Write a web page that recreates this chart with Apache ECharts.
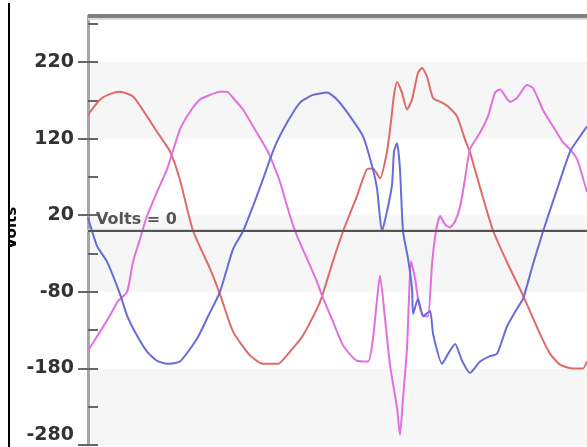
<!DOCTYPE html>
<html>
<head>
<meta charset="utf-8">
<script src="https://cdn.jsdelivr.net/npm/echarts@6/dist/echarts.min.js"></script>
<style>
html,body{margin:0;padding:0;background:#fff;}
#c{width:587px;height:447px;}
</style>
</head>
<body>
<div id="c"></div>
<script>
// time in ms, voltage in volts
const phaseA_t = [0.00,0.67,1.22,1.78,2.50,3.28,3.83,4.56,5.11,5.83,6.78,7.33,8.06,9.00,9.72,10.56,11.22,11.94,12.72,13.00,13.61,14.17,14.94,15.50,15.83,16.22,16.61,16.83,17.00,17.17,17.44,17.72,18.00,18.33,18.56,18.83,19.17,19.67,20.00,20.50,20.94,21.22,21.78,22.50,23.33,24.17,25.11,25.67,26.22,26.89,27.50,27.72];
const phaseA_v = [151,171,178,181,175,149,129,103,66,0,-50,-83,-132,-163,-174,-174,-158,-137,-102,-86,-40,-1,45,80,81,68,103,142,177,194,180,158,171,206,212,201,173,167,162,149,119,102,56,0,-44,-85,-135,-161,-175,-180,-180,-171];

const phaseB_t = [0.00,0.50,1.06,1.78,2.17,2.72,3.28,3.83,4.39,5.11,6.06,6.67,7.33,8.06,8.61,9.17,9.72,10.39,11.06,11.78,12.50,13.28,13.83,14.56,15.28,15.83,16.06,16.33,16.61,16.89,17.00,17.17,17.33,17.50,17.78,18.00,18.06,18.33,18.61,19.00,19.17,19.67,20.00,20.39,20.78,21.22,21.78,22.33,22.72,23.28,23.83,24.17,24.72,25.28,26.06,26.78,27.22,27.72];
const phaseB_v = [17,-20,-41,-83,-111,-137,-158,-170,-174,-171,-141,-112,-80,-24,-1,32,67,110,141,167,177,180,171,149,123,80,54,-1,25,60,103,114,80,-1,-37,-76,-109,-89,-112,-105,-135,-174,-161,-148,-170,-186,-171,-164,-161,-125,-102,-89,-44,-1,54,103,119,136];

const phaseC_t = [0.00,0.67,1.22,1.67,2.17,2.50,2.89,3.28,3.83,4.39,5.11,5.67,6.22,6.78,7.33,7.72,8.06,8.61,9.17,9.83,10.11,10.67,11.22,11.61,12.17,12.72,13.00,13.61,14.17,14.94,15.56,15.83,16.06,16.22,16.50,16.78,17.17,17.33,17.50,17.72,17.83,17.94,18.17,18.39,18.67,18.89,19.11,19.33,19.56,19.83,20.11,20.39,20.67,20.94,21.22,21.78,22.22,22.61,22.89,23.44,23.83,24.39,24.72,25.28,25.83,26.39,26.78,27.17,27.72];
const phaseC_v = [-157,-132,-111,-92,-80,-41,-11,19,50,80,132,155,171,177,181,181,173,158,136,110,97,63,19,-7,-37,-67,-85,-119,-150,-170,-171,-141,-89,-59,-115,-176,-232,-267,-219,-154,-89,-40,-63,-96,-112,-112,-44,-1,19,8,4,12,31,67,106,128,149,180,184,168,173,190,186,157,136,115,106,93,50];

const yTicks = [-280,-180,-80,20,120,220];
const yMinorTicks = [-280,-230,-180,-130,-80,-30,20,70,120,170,220,270];
const zeroLineLabel = 'Volts = 0';
const axisName = 'Volts';

function zip(t, v) { return t.map((x, i) => [x, v[i]]); }

const chart = echarts.init(document.getElementById('c'), null, {renderer: 'canvas'});
const labelFont = {fontFamily: 'DejaVu Sans', fontWeight: 'bold', fontSize: 19, color: '#333'};

chart.setOption({
  animation: false,
  backgroundColor: '#ffffff',
  grid: {left: 88, right: 0, top: 16, bottom: 2, containLabel: false},
  xAxis: {
    type: 'value', min: 0, max: 27.72,
    axisLine: {show: true, lineStyle: {color: '#d6d6d6', width: 3}},
    axisTick: {show: false}, axisLabel: {show: false}, splitLine: {show: false}
  },
  yAxis: [{
    type: 'value', position: 'left', offset: 0, min: -280, max: 280, interval: 100,
    axisLine: {show: true, onZero: false, lineStyle: {color: '#a6a6a6', width: 3}},
    axisTick: {show: true, length: 10, customValues: yTicks, lineStyle: {color: '#666', width: 2}},
    axisLabel: Object.assign({
      margin: 14, customValues: yTicks,
      formatter: v => (v === -280 ? '{lo|' + v + '}' : String(v)),
      rich: {lo: Object.assign({padding: [0, 0, 20, 0]}, labelFont)}
    }, labelFont),
    splitLine: {show: false},
    splitArea: {show: true, areaStyle: {color: ['#f6f6f6', '#ffffff']}}
  }, {
    type: 'value', position: 'left', offset: 0, min: -280, max: 280, interval: 50,
    axisLine: {show: false, onZero: false},
    axisTick: {show: true, inside: true, length: 10, customValues: yMinorTicks, lineStyle: {color: '#666', width: 2}},
    axisLabel: {show: false}, splitLine: {show: false}
  }],
  series: [{
    type: 'line', name: 'A', yAxisIndex: 0, showSymbol: false, smooth: 0.2,
    data: zip(phaseA_t, phaseA_v),
    lineStyle: {color: '#df6a6a', width: 2}, itemStyle: {color: '#df6a6a'}
  }, {
    type: 'line', name: 'C', yAxisIndex: 0, showSymbol: false, smooth: 0.2,
    data: zip(phaseC_t, phaseC_v),
    lineStyle: {color: '#e070e0', width: 2}, itemStyle: {color: '#e070e0'}
  }, {
    type: 'line', name: 'B', yAxisIndex: 0, showSymbol: false, smooth: 0.2,
    data: zip(phaseB_t, phaseB_v),
    lineStyle: {color: '#6a6ad8', width: 2}, itemStyle: {color: '#6a6ad8'},
    markLine: {
      silent: true, symbol: ['none', 'none'],
      lineStyle: {color: '#555', width: 2, type: 'solid'},
      label: {show: true, position: 'insideStartTop', formatter: zeroLineLabel, distance: [8, 3],
              fontFamily: 'DejaVu Sans', fontWeight: 'bold', fontSize: 16, color: '#555'},
      data: [{yAxis: 0}]
    }
  }],
  graphic: [
    {type: 'rect', z: 100, shape: {x: 88, y: 14, width: 499, height: 4}, style: {fill: '#808080'}},
    {type: 'rect', z: 100, shape: {x: 88, y: 18, width: 499, height: 2}, style: {fill: '#dcdcdc'}},
    {type: 'text', z: 100, x: 12, y: 228, rotation: Math.PI / 2,
     style: {text: axisName, font: 'bold 15px "DejaVu Sans"', fill: '#000', align: 'center', verticalAlign: 'middle'}},
    {type: 'rect', z: 101, shape: {x: 0, y: 0, width: 8, height: 447}, style: {fill: '#fff'}},
    {type: 'rect', z: 101, shape: {x: 8, y: 3, width: 2, height: 444}, style: {fill: '#000'}}
  ]
});
</script>
</body>
</html>
